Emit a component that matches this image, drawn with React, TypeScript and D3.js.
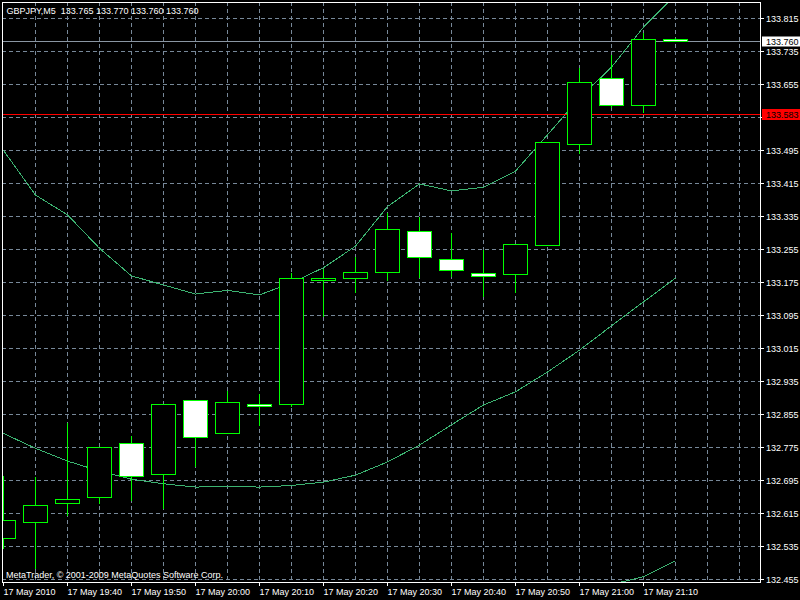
import React from "react";
import * as d3 from "d3";

const barTimes = ["19:30","19:35","19:40","19:45","19:50","19:55","20:00","20:05","20:10","20:15","20:20","20:25","20:30","20:35","20:40","20:45","20:50","20:55","21:00","21:05","21:10","21:15"];
const opens = [132.555,132.593,132.640,132.654,132.785,132.710,132.888,132.809,132.880,132.880,133.179,133.184,133.200,133.299,133.231,133.196,133.195,133.265,133.510,133.670,133.605,133.765];
const highs = [132.706,132.704,132.836,132.776,132.805,132.880,132.890,132.914,132.906,133.200,133.209,133.239,133.344,133.336,133.297,133.256,133.266,133.515,133.697,133.727,133.782,133.770];
const lows = [132.531,132.482,132.610,132.640,132.646,132.628,132.728,132.809,132.828,132.875,133.092,133.150,133.179,133.188,133.189,133.141,133.150,133.265,133.488,133.600,133.588,133.760];
const closes = [132.599,132.635,132.649,132.775,132.705,132.880,132.800,132.885,132.875,133.185,133.185,133.200,133.304,133.236,133.205,133.190,133.266,133.515,133.660,133.605,133.765,133.760];

const bbUpper = [133.495,133.387,133.339,133.258,133.191,133.169,133.147,133.156,133.145,133.174,133.211,133.263,133.359,133.414,133.397,133.406,133.445,133.533,133.622,133.697,133.794,133.872];
const bbMiddle = [132.809,132.773,132.742,132.718,132.698,132.687,132.679,132.681,132.679,132.683,132.691,132.708,132.740,132.781,132.830,132.878,132.910,132.958,133.011,133.070,133.128,133.186];
const bbLower = [132.123,132.159,132.145,132.178,132.205,132.205,132.211,132.206,132.213,132.192,132.171,132.153,132.121,132.148,132.263,132.350,132.375,132.383,132.400,132.443,132.462,132.500];

const priceTicks = [133.815,133.735,133.655,133.575,133.495,133.415,133.335,133.255,133.175,133.095,133.015,132.935,132.855,132.775,132.695,132.615,132.535,132.455];
const hiddenPriceLabels = [133.575];
const timeLabels = ["17 May 2010","17 May 19:40","17 May 19:50","17 May 20:00","17 May 20:10","17 May 20:20","17 May 20:30","17 May 20:40","17 May 20:50","17 May 21:00","17 May 21:10"];
const timeLabelBars = [0,2,4,6,8,10,12,14,16,18,20];
const gridBars = [1,2,3,4,5,6,7,8,9,10,11,12,13,14,15,16,17,18,19,20,21,22,23];

const bidPrice = 133.760;
const alertPrice = 133.583;
const headerText = "GBPJPY,M5  133.765 133.770 133.760 133.760";
const copyrightText = "MetaTrader, \u00a9 2001-2009 MetaQuotes Software Corp.";

const FONT = "'Liberation Sans', Arial, sans-serif";

export default function App() {
  const left = 2, right = 760, top = 2, bottom = 582;
  const x = d3.scaleLinear().domain([0, 21]).range([3.5, 675.5]);
  const y = d3.scaleLinear().domain([132.455, 133.815]).range([579.5, 18.5]);
  const snap = (v: number) => Math.round(v - 0.5) + 0.5;

  const line = d3.line<number>().x((_, i) => x(i)).y((d) => y(d));

  const gridColor = "#778899";
  const bandColor = "#3CB371";
  const candleColor = "#00FF00";

  const bidY = snap(y(bidPrice));
  const alertY = snap(y(alertPrice));

  return (
    <svg width={800} height={600} style={{ position: "fixed", left: 0, top: 0, background: "#000" }}>
      <defs>
        <clipPath id="plot">
          <rect x={left + 0.5} y={top + 0.5} width={right - left} height={bottom - top} />
        </clipPath>
      </defs>
      <rect x={0} y={0} width={800} height={600} fill="#000" />
      <g clipPath="url(#plot)">
        {priceTicks.map((p) => (
          <line key={"hg" + p} x1={left} x2={right} y1={snap(y(p))} y2={snap(y(p))}
            stroke={gridColor} strokeWidth={1} strokeDasharray="4,3" shapeRendering="crispEdges" />
        ))}
        {gridBars.map((b) => (
          <line key={"vg" + b} x1={x(b)} x2={x(b)} y1={top} y2={bottom}
            stroke={gridColor} strokeWidth={1} strokeDasharray="4,3" shapeRendering="crispEdges" />
        ))}
        {[bbUpper, bbMiddle, bbLower].map((s, i) => (
          <path key={"bb" + i} d={line(s) || ""} fill="none" stroke={bandColor} strokeWidth={1} shapeRendering="crispEdges" />
        ))}
        <line x1={left} x2={right} y1={alertY} y2={alertY} stroke="#FF0000" strokeWidth={1} shapeRendering="crispEdges" />
        <line x1={left} x2={right} y1={bidY} y2={bidY} stroke="#8A96A3" strokeWidth={1} shapeRendering="crispEdges" />
        {barTimes.map((t, i) => {
          const o = opens[i], c = closes[i];
          const cx = x(i);
          const bull = c >= o;
          const yTop = snap(y(Math.max(o, c)));
          const yBot = snap(y(Math.min(o, c)));
          return (
            <g key={"c" + t}>
              <line x1={cx} x2={cx} y1={snap(y(highs[i]))} y2={snap(y(lows[i]))} stroke={candleColor} strokeWidth={1} shapeRendering="crispEdges" />
              <rect x={cx - 12} y={yTop} width={24} height={Math.max(yBot - yTop, 1)}
                fill={bull ? "#000" : "#FFF"} stroke={candleColor} strokeWidth={1} shapeRendering="crispEdges" />
            </g>
          );
        })}
      </g>
      <rect x={left + 0.5} y={top + 0.5} width={right - left} height={bottom - top} fill="none" stroke="#FFF" strokeWidth={1} shapeRendering="crispEdges" />
      {priceTicks.map((p) => (
        <g key={"pl" + p}>
          <line x1={right + 1} x2={right + 4} y1={snap(y(p))} y2={snap(y(p))} stroke="#FFF" strokeWidth={1} shapeRendering="crispEdges" />
          {hiddenPriceLabels.indexOf(p) < 0 && (
            <text x={766} y={snap(y(p)) + 3.5} fill="#FFF" fontFamily={FONT} fontSize={9}>{p.toFixed(3)}</text>
          )}
        </g>
      ))}
      <rect x={762} y={bidY - 5} width={38} height={10} fill="#FFF" />
      <text x={766} y={bidY + 3.5} fill="#000" fontFamily={FONT} fontSize={9}>{bidPrice.toFixed(3)}</text>
      <rect x={762} y={alertY - 5.5} width={38} height={11} fill="#FF0000" />
      <text x={766} y={alertY + 3.5} fill="#000" fontFamily={FONT} fontSize={9}>{alertPrice.toFixed(3)}</text>
      {timeLabelBars.map((b, i) => (
        <g key={"tl" + b}>
          <line x1={x(b)} x2={x(b)} y1={bottom + 1} y2={bottom + 4} stroke="#FFF" strokeWidth={1} shapeRendering="crispEdges" />
          <text x={x(b)} y={595} fill="#FFF" fontFamily={FONT} fontSize={9}>{timeLabels[i]}</text>
        </g>
      ))}
      <text x={6.5} y={14} fill="#FFF" fontFamily={FONT} fontSize={9} style={{ whiteSpace: "pre" }}>{headerText}</text>
      <text x={6} y={578} fill="#FFF" fontFamily={FONT} fontSize={9}>{copyrightText}</text>
    </svg>
  );
}
